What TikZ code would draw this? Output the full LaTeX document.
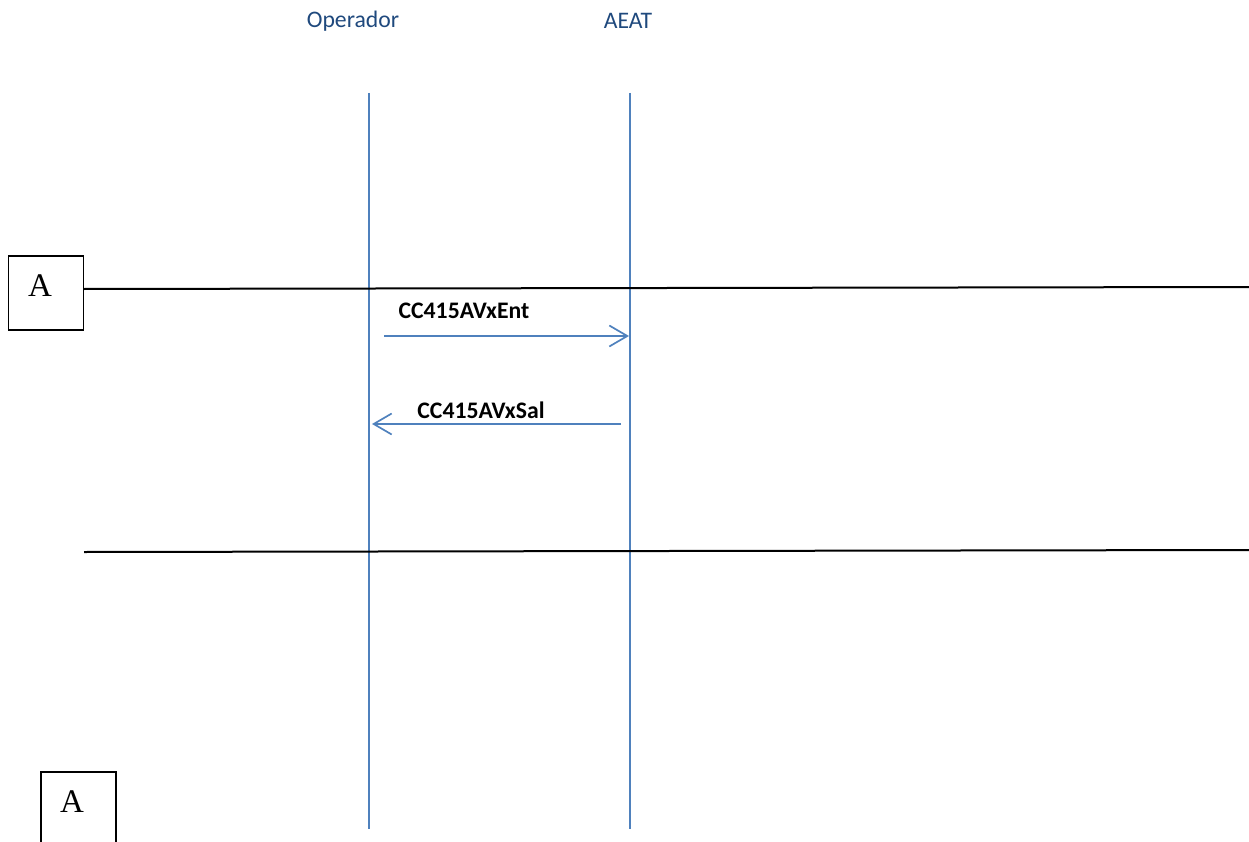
\documentclass[tikz,border=0pt]{standalone}
\usepackage{fontspec}
\setmainfont{Carlito}
\newfontfamily\timesfont{Liberation Serif}
\usetikzlibrary{arrows.meta}
\definecolor{lifeblue}{HTML}{4F81BD}
\definecolor{headblue}{HTML}{1F497D}
\begin{document}
\begin{tikzpicture}[x=1pt,y=-1pt,
  head/.style={text=headblue,font=\fontsize{23.7}{26}\selectfont,inner sep=0pt},
  lifeline/.style={draw=lifeblue,line width=2pt},
  msg/.style={draw=lifeblue,line width=1.7pt,-{Straight Barb[length=18pt,width=21pt]}},
  msglabel/.style={font=\bfseries\fontsize{23.7}{26}\selectfont,inner sep=0pt},
  abox/.style={draw=black,line width=1.5pt,minimum width=75pt,minimum height=74pt,inner sep=0pt},
  aletter/.style={font=\timesfont\fontsize{33}{36}\selectfont,inner sep=0pt},
  sep/.style={draw=black,line width=2pt}]
\useasboundingbox (0,0) rectangle (1249,842);
% headers
\node[head] (op) at (353,21) {Operador};
\node[head] (ae) at (628,21) {AEAT};
% lifelines
\coordinate (opT) at (369,93);
\coordinate (opB) at (369,829);
\coordinate (aeT) at (630,93);
\coordinate (aeB) at (630,829);
\draw[lifeline] (opT) -- (opB);
\draw[lifeline] (aeT) -- (aeB);
% box A top
\node[abox] (boxA) at (46,293) {};
\node[aletter] (letA) at (40,286) {A};
\coordinate (sep1L) at (84,289);
\coordinate (sep1R) at (1249,287);
\draw[sep] (sep1L) -- (sep1R);
% second separator
\coordinate (sep2L) at (84,552);
\coordinate (sep2R) at (1249,550);
\draw[sep] (sep2L) -- (sep2R);
% box A bottom
\draw[black,line width=1.5pt] (41,845) -- (41,772) -- (116,772) -- (116,845);
\node[aletter] (letB) at (72,802) {A};
% messages
\coordinate (m1s) at (384,336);
\coordinate (m1e) at (629,336);
\draw[msg] (m1s) -- (m1e);
\node[msglabel] (l1) at (464,311) {CC415AVxEnt};
\coordinate (m2s) at (621,424);
\coordinate (m2e) at (372,424);
\draw[msg] (m2s) -- (m2e);
\node[msglabel] (l2) at (481,410) {CC415AVxSal};
\end{tikzpicture}
\end{document}
